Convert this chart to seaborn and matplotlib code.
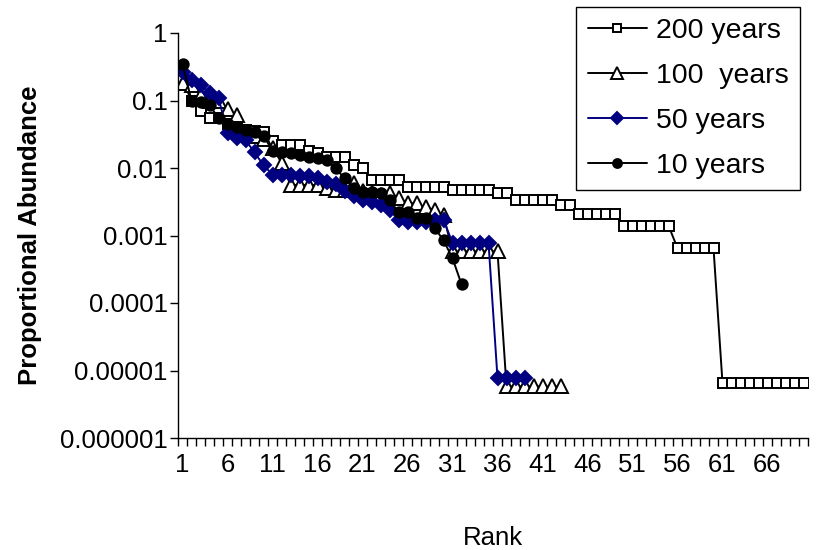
import matplotlib
matplotlib.use('Agg')
import matplotlib.pyplot as plt
import matplotlib.ticker as mticker
import numpy as np
import pandas as pd
import seaborn as sns

# Proportional abundance per rank
years_200 = [0.2, 0.1, 0.07, 0.055, 0.055, 0.045, 0.04, 0.037, 0.035, 0.034,
             0.025, 0.022, 0.022, 0.022, 0.018, 0.0165, 0.0145, 0.0145, 0.0145, 0.011,
             0.01, 0.0066, 0.0066, 0.0066, 0.0066, 0.0052, 0.0052, 0.0052, 0.0052, 0.0052,
             0.0047, 0.0047, 0.0047, 0.0047, 0.0047, 0.0043, 0.0043, 0.0034, 0.0034, 0.0034,
             0.0034, 0.0034, 0.0028, 0.0028, 0.0021, 0.0021, 0.0021, 0.0021, 0.0021, 0.0014,
             0.0014, 0.0014, 0.0014, 0.0014, 0.0014, 0.00065, 0.00065, 0.00065, 0.00065, 0.00065,
             6.5e-6, 6.5e-6, 6.5e-6, 6.5e-6, 6.5e-6, 6.5e-6, 6.5e-6, 6.5e-6, 6.5e-6, 6.5e-6]
years_100 = [0.18, 0.17, 0.12, 0.1, 0.1, 0.075, 0.06, 0.033, 0.03, 0.027,
             0.02, 0.012, 0.0056, 0.0056, 0.0056, 0.0056, 0.005, 0.0048, 0.0048, 0.006,
             0.0045, 0.0042, 0.004, 0.0043, 0.0036, 0.003, 0.003, 0.0026, 0.0024, 0.002,
             0.00058, 0.00058, 0.00058, 0.00058, 0.00058, 0.00058,
             5.8e-6, 5.8e-6, 5.8e-6, 5.8e-6, 5.8e-6, 5.8e-6, 5.8e-6]
years_50 = [0.26, 0.2, 0.17, 0.13, 0.11, 0.033, 0.028, 0.026, 0.017, 0.011,
            0.008, 0.0078, 0.0078, 0.0075, 0.0075, 0.007, 0.0062, 0.0058, 0.0045, 0.0038,
            0.0034, 0.0031, 0.0028, 0.0024, 0.0017, 0.0016, 0.0016, 0.0016, 0.0017, 0.0017,
            0.00078, 0.00078, 0.00078, 0.00078, 0.00078,
            7.8e-6, 7.8e-6, 7.8e-6, 7.8e-6]
years_10 = [0.35, 0.1, 0.095, 0.085, 0.055, 0.045, 0.04, 0.037, 0.034, 0.03,
            0.018, 0.017, 0.0165, 0.0155, 0.0145, 0.014, 0.013, 0.01, 0.007, 0.005,
            0.0044, 0.0044, 0.0043, 0.0034, 0.0022, 0.0022, 0.0018, 0.0018, 0.0013, 0.00085,
            0.00046, 0.00019]

series_names = ['200 years', '100  years', '50 years', '10 years']
n_ranks = 70
rank_labels = list(range(1, n_ranks + 1, 5))
ytick_values = [1, 0.1, 0.01, 0.001, 0.0001, 0.00001, 0.000001]

sns.set_style('white')
plt.rcParams['font.family'] = ['Liberation Sans', 'DejaVu Sans']
plt.rcParams['text.color'] = 'black'
plt.rcParams['axes.labelcolor'] = 'black'
plt.rcParams['xtick.color'] = 'black'
plt.rcParams['ytick.color'] = 'black'

fig = plt.figure(figsize=(8.17, 5.5), dpi=100)
ax = fig.add_axes([178 / 817, 1 - 438 / 550, 630 / 817, 405 / 550])

styles = [
    dict(marker='s', color='black', markerfacecolor='white', markeredgecolor='black', markersize=7),
    dict(marker='^', color='black', markerfacecolor='white', markeredgecolor='black', markersize=10.5),
    dict(marker='D', color='#000080', markerfacecolor='#000080', markeredgecolor='#000080', markersize=7),
    dict(marker='o', color='black', markerfacecolor='black', markeredgecolor='black', markersize=7.5),
]

for name, values, st in zip(series_names, [years_200, years_100, years_50, years_10], styles):
    df = pd.DataFrame({'rank': np.arange(1, len(values) + 1), 'value': values})
    sns.lineplot(data=df, x='rank', y='value', ax=ax, label=name,
                 linewidth=1.4, markeredgewidth=1.4, **st)

ax.set_yscale('log')
ax.set_ylim(1e-6, 1)
ax.set_xlim(0.5, n_ranks + 0.5)
ax.yaxis.set_major_locator(mticker.FixedLocator(ytick_values))
ax.yaxis.set_minor_locator(mticker.NullLocator())
ax.yaxis.set_major_formatter(mticker.FuncFormatter(
    lambda v, p: f"{v:.{max(0, int(round(-np.log10(v))))}f}"))

ax.set_xticks(rank_labels)
ax.set_xticklabels([str(r) for r in rank_labels])
ax.set_xticks(np.arange(0.5, n_ranks + 1, 1), minor=True)
ax.tick_params(axis='x', which='major', bottom=True, length=0, pad=11, labelsize=18.5)
ax.tick_params(axis='x', which='minor', bottom=True, length=6, width=1, direction='out')
ax.tick_params(axis='y', which='major', left=True, length=6, width=1, direction='out',
               labelsize=18.5, pad=1.5)

for side in ['top', 'right']:
    ax.spines[side].set_visible(False)
for side in ['left', 'bottom']:
    ax.spines[side].set_color('black')
    ax.spines[side].set_linewidth(1)

ax.set_xlabel('Rank', fontsize=18.5, labelpad=35)
ax.set_ylabel('Proportional Abundance', fontsize=18.5, fontweight='bold', labelpad=13)

ax.legend(loc='upper right', bbox_to_anchor=(800 / 817, 1 - 7 / 550), bbox_transform=fig.transFigure,
          borderaxespad=0, fontsize=20.5, frameon=True, fancybox=False, edgecolor='black',
          framealpha=1, handlelength=2.1, labelspacing=0.66, borderpad=0.4, handletextpad=0.3,
          markerscale=0.85)
ax.get_legend().get_frame().set_linewidth(1)

fig.savefig('out.png', dpi=100)
